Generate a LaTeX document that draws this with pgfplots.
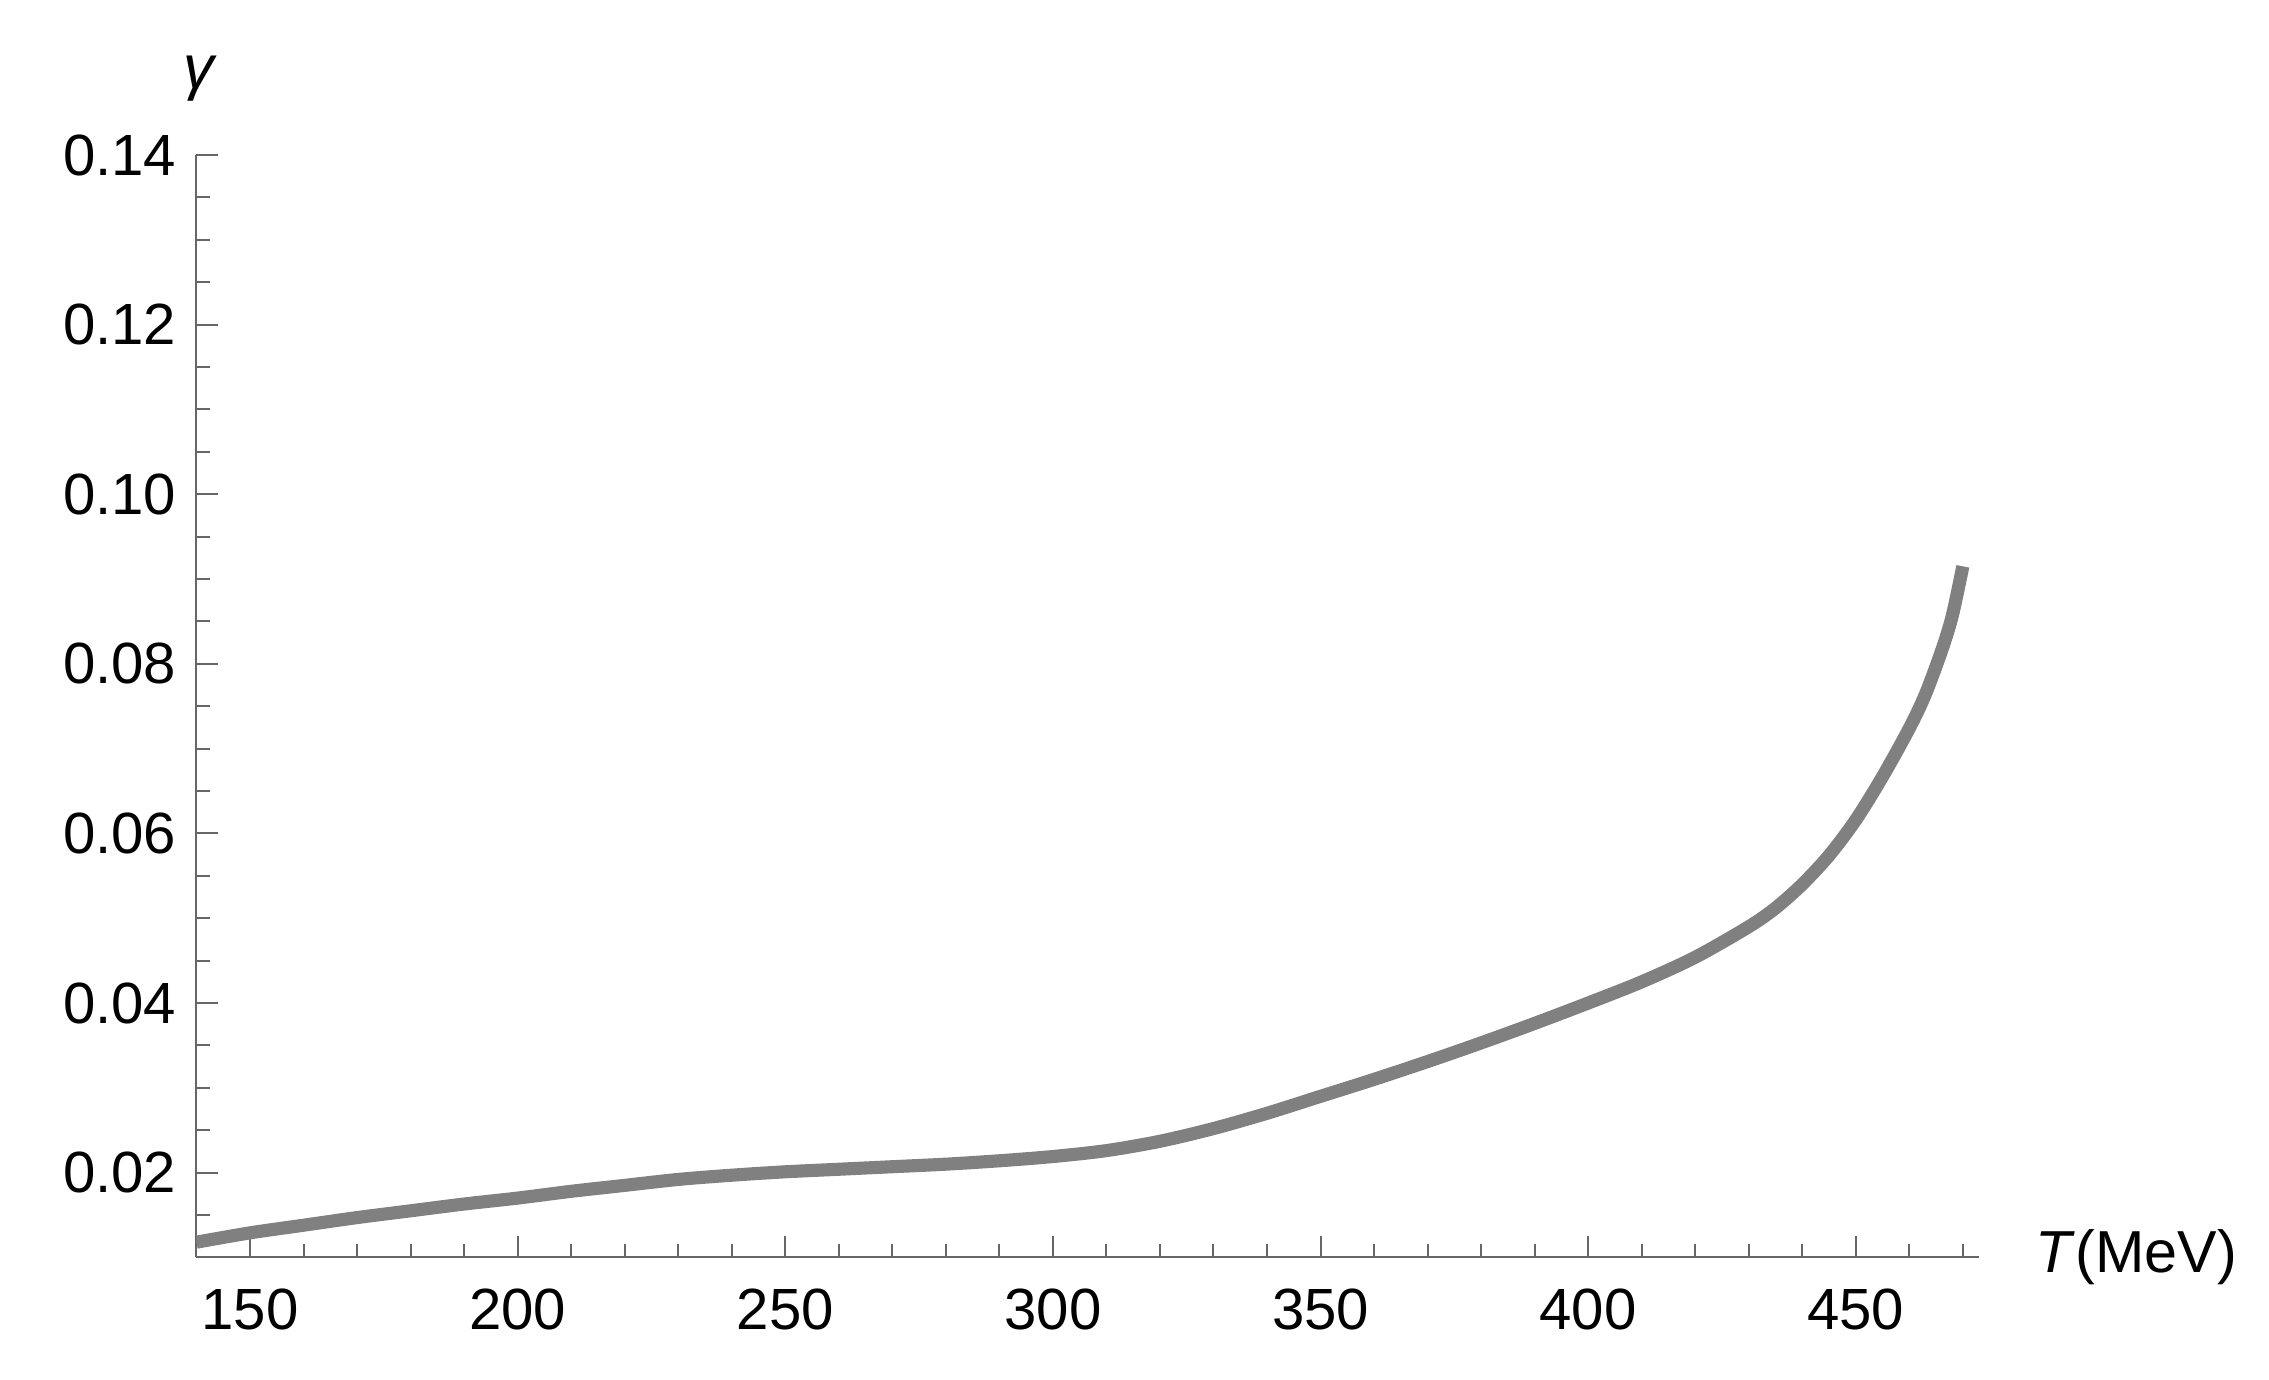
\documentclass[border=0pt]{standalone}
\usepackage{fontspec}
\setmainfont{Liberation Sans}
\usepackage{pgfplots}
\pgfplotsset{compat=1.18}
\definecolor{axisgray}{HTML}{666666}
\definecolor{curvegray}{HTML}{808080}

\begin{document}
\begin{tikzpicture}
\path[use as bounding box] (-34.47pt,-21.49pt) rectangle (363.6pt,220.6pt);
\begin{axis}[
    at={(0,0)}, anchor=south west,
    scale only axis, width=312.7pt, height=193.4pt,
    xmin=140, xmax=473, ymin=0.01, ymax=0.14,
    axis lines=left,
    axis line style={-, draw=axisgray, line width=0.35pt},
    every tick/.style={axisgray, line width=0.35pt},
    major tick length=3.7pt, minor tick length=2.35pt,
    tick align=inside,
    xtick={150,200,250,300,350,400,450},
    minor xtick={160,170,180,190,210,220,230,240,260,270,280,290,310,320,330,340,360,370,380,390,410,420,430,440,460,470},
    ytick={0.02,0.04,0.06,0.08,0.10,0.12,0.14},
    minor ytick={0.015,0.025,0.03,0.035,0.045,0.05,0.055,0.065,0.07,0.075,0.085,0.09,0.095,0.105,0.11,0.115,0.125,0.13,0.135},
    scaled y ticks=false,
    y tick label style={/pgf/number format/fixed, /pgf/number format/fixed zerofill, /pgf/number format/precision=2},
    /pgf/number format/assume math mode=true,
    tick label style={font=\fontsize{10.2}{12}\selectfont, black},
    x tick label style={yshift=-2pt},
    xlabel={\textit{T}(MeV)}, ylabel={\textit{γ}},
    every axis x label/.style={at={(axis description cs:1,0)}, anchor=base west, inner sep=0pt, xshift=9.8pt, yshift=-2.7pt, font=\fontsize{10.4}{12}\selectfont},
    every axis y label/.style={at={(axis description cs:0,1)}, anchor=base, inner sep=0pt, yshift=11.75pt, xshift=0.7pt, font=\fontsize{10.8}{12}\selectfont},
]
% gamma(T)
\addplot[curvegray, line width=2.3pt, smooth, tension=0.5] coordinates {
    (140,0.0118) (150,0.0129) (160,0.0138) (170,0.0147) (180,0.0155)
    (190,0.0163) (200,0.0170) (210,0.0178) (220,0.0185) (230,0.0192)
    (240,0.0197) (250,0.0201) (260,0.0204) (270,0.0207) (280,0.0210)
    (290,0.0214) (300,0.0219) (310,0.0226) (320,0.0237) (330,0.0252)
    (340,0.0270) (350,0.0290) (360,0.0310) (370,0.0331) (380,0.0353)
    (390,0.0376) (400,0.0400) (410,0.0425) (420,0.0454) (430,0.0490)
    (435,0.0512) (440,0.0540) (445,0.0574) (450,0.0616) (455,0.0667)
    (460,0.0724) (463,0.0764) (466,0.0815) (468,0.0856) (470,0.0915)
};
\end{axis}
\end{tikzpicture}
\end{document}
